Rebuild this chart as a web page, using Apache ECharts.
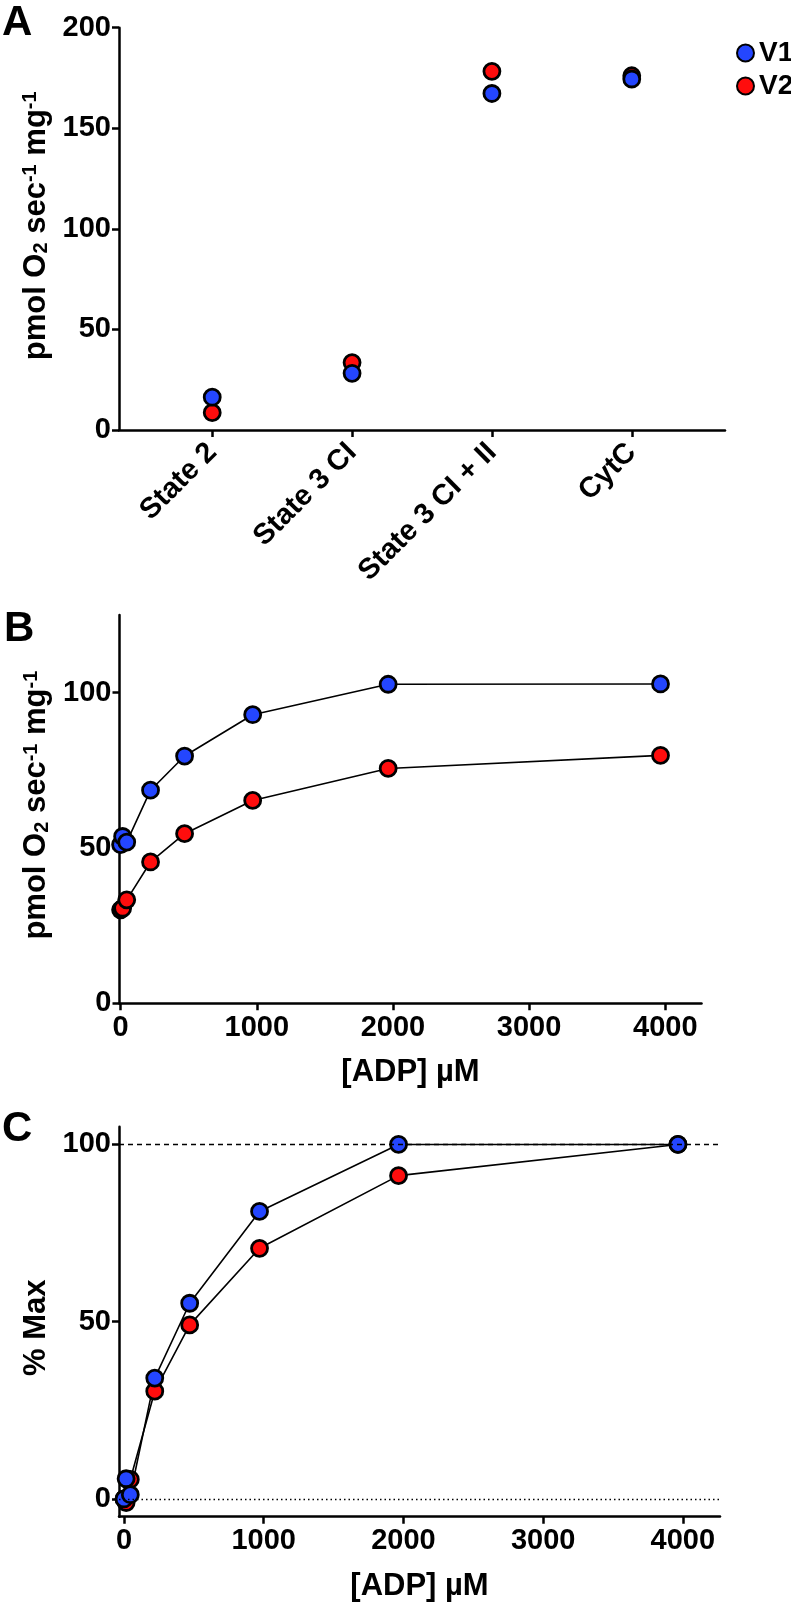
<!DOCTYPE html>
<html>
<head>
<meta charset="utf-8">
<script src="https://cdn.jsdelivr.net/npm/echarts@6/dist/echarts.min.js"></script>
<style>
html,body{margin:0;padding:0;background:#fff;}
#c{width:791px;height:1616px;}
</style>
</head>
<body>
<div id="c"></div>
<script>
// ---------- data ----------
const categoriesA = ['State 2', 'State 3 CI', 'State 3 CI + II', 'CytC'];
const v1A = [16.3, 28.2, 167.3, 174.5];
const v2A = [8.6, 33.5, 178.3, 176.1];

const adp = [0, 15, 45, 220, 470, 970, 1965, 3965];
const v1B = [51.1, 53.7, 51.9, 68.6, 79.6, 92.9, 102.7, 102.8];
const v2B = [30.1, 30.6, 33.3, 45.5, 54.6, 65.3, 75.6, 79.8];

const v1C = [0, 5.7, 1.2, 34.1, 55.2, 81.1, 100, 100];
const v2C = [0, -1, 5.5, 30.4, 49.1, 70.7, 91.2, 100];

const ticksAy = [0, 50, 100, 150, 200];
const ticksAx = [1, 2, 3, 4];
const ticksADP = [0, 1000, 2000, 3000, 4000];
const ticksBy = [0, 50, 100];
const ticksCy = [0, 50, 100];

// ---------- style ----------
const BLUE = '#2446ff';
const RED = '#ff0d0d';
const FONT = 'Liberation Sans, Arial, sans-serif';
const tickFont = {fontFamily: FONT, fontWeight: 'bold', fontSize: 29, color: '#000'};
const nameFont = {fontFamily: FONT, fontWeight: 'bold', fontSize: 31, color: '#000'};
const AXW = 2.5;
const SS = 16;

function plain(v) { return String(v); }
function axisBase(ticks) {
  return {
    axisLine: {show: true, onZero: false, lineStyle: {color: '#000', width: AXW}},
    axisTick: {show: true, customValues: ticks, length: 7, inside: false, lineStyle: {color: '#000', width: AXW}},
    axisLabel: Object.assign({customValues: ticks, margin: 8, formatter: plain}, tickFont),
    splitLine: {show: false}
  };
}
const richName = {
  sub: {fontFamily: FONT, fontWeight: 'bold', fontSize: 20, verticalAlign: 'bottom', lineHeight: 18},
  sup: {fontFamily: FONT, fontWeight: 'bold', fontSize: 20, verticalAlign: 'top', lineHeight: 18}
};
const unitName = 'pmol O{sub|2} sec{sup|-1} mg{sup|-1}';

function sym(color) {
  return {color: color, borderColor: '#000', borderWidth: 2.8, opacity: 1};
}

const chart = echarts.init(document.getElementById('c'), null, {renderer: 'canvas'});

const option = {
  backgroundColor: '#fff',
  animation: false,
  grid: [
    {left: 119, top: 27.7, width: 606, height: 402.3},
    {left: 119.5, top: 615, width: 582, height: 388.3},
    {left: 119, top: 1126.7, width: 601, height: 390}
  ],
  legend: {
    data: ['V1', 'V2'],
    orient: 'vertical',
    left: 731,
    top: 34,
    itemWidth: 17,
    itemHeight: 17,
    itemGap: 5,
    icon: 'circle',
    textStyle: {fontFamily: FONT, fontWeight: 'bold', fontSize: 28, color: '#000'}
  },
  xAxis: [
    Object.assign(axisBase(ticksAx), {
      type: 'value', gridIndex: 0, min: 1 - 2 / 3, max: 4 + 2 / 3,
      axisLabel: Object.assign({customValues: ticksAx, margin: 18, rotate: 45,
        formatter: function (v) { return categoriesA[Math.round(v) - 1] || ''; }}, tickFont)
    }),
    Object.assign(axisBase(ticksADP), {
      type: 'value', gridIndex: 1, min: -8, max: 4266,
      name: '[ADP] µM', nameLocation: 'middle', nameGap: 54, nameTextStyle: nameFont,
      axisLabel: Object.assign({customValues: ticksADP, margin: 10, formatter: plain}, tickFont)
    }),
    Object.assign(axisBase(ticksADP), {
      type: 'value', gridIndex: 2, min: -36, max: 4266,
      name: '[ADP] µM', nameLocation: 'middle', nameGap: 54, nameTextStyle: nameFont,
      axisLabel: Object.assign({customValues: ticksADP, margin: 10, formatter: plain}, tickFont)
    })
  ],
  yAxis: [
    Object.assign(axisBase(ticksAy), {
      type: 'value', gridIndex: 0, min: 0, max: 200,
      name: unitName, nameLocation: 'middle', nameRotate: 90, nameGap: 63,
      nameTextStyle: Object.assign({rich: richName, padding: [0, 0, 0, 6]}, nameFont)
    }),
    Object.assign(axisBase(ticksBy), {
      type: 'value', gridIndex: 1, min: 0, max: 125,
      name: unitName, nameLocation: 'middle', nameRotate: 90, nameGap: 63,
      nameTextStyle: Object.assign({rich: richName, padding: [0, 0, 0, 8]}, nameFont)
    }),
    Object.assign(axisBase(ticksCy), {
      type: 'value', gridIndex: 2, min: -5, max: 105,
      name: '% Max', nameLocation: 'middle', nameRotate: 90, nameGap: 63,
      nameTextStyle: Object.assign({padding: [0, 12, 0, 0]}, nameFont)
    })
  ],
  series: [
    {name: 'V2', type: 'scatter', xAxisIndex: 0, yAxisIndex: 0, symbolSize: SS,
      itemStyle: sym(RED), data: v2A.map((v, i) => [i + 1, v])},
    {name: 'V1', type: 'scatter', xAxisIndex: 0, yAxisIndex: 0, symbolSize: SS,
      itemStyle: sym(BLUE), data: v1A.map((v, i) => [i + 1, v])},

    {name: 'V2', type: 'line', xAxisIndex: 1, yAxisIndex: 1, symbol: 'circle', symbolSize: SS,
      itemStyle: sym(RED), lineStyle: {color: '#000', width: 1.6},
      data: adp.map((x, i) => [x, v2B[i]])},
    {name: 'V1', type: 'line', xAxisIndex: 1, yAxisIndex: 1, symbol: 'circle', symbolSize: SS,
      itemStyle: sym(BLUE), lineStyle: {color: '#000', width: 1.6},
      data: adp.map((x, i) => [x, v1B[i]])},

    {name: 'V2', type: 'line', xAxisIndex: 2, yAxisIndex: 2, symbol: 'circle', symbolSize: SS,
      itemStyle: sym(RED), lineStyle: {color: '#000', width: 1.6},
      data: adp.map((x, i) => [x, v2C[i]]),
      markLine: {silent: true, symbol: 'none', label: {show: false},
        data: [
          {yAxis: 100, lineStyle: {color: '#000', width: 1.4, type: [5, 4]}},
          {yAxis: 0, lineStyle: {color: '#000', width: 1.4, type: [1.5, 3]}}
        ]}},
    {name: 'V1', type: 'line', xAxisIndex: 2, yAxisIndex: 2, symbol: 'circle', symbolSize: SS,
      itemStyle: sym(BLUE), lineStyle: {color: '#000', width: 1.6},
      data: adp.map((x, i) => [x, v1C[i]])}
  ],
  graphic: [
    {type: 'text', left: 2, top: 2, style: {text: 'A', font: 'bold 42px ' + FONT, fill: '#000'}},
    {type: 'text', left: 4, top: 608, style: {text: 'B', font: 'bold 42px ' + FONT, fill: '#000'}},
    {type: 'text', left: 2, top: 1108, style: {text: 'C', font: 'bold 42px ' + FONT, fill: '#000'}}
  ]
};
chart.setOption(option);
</script>
</body>
</html>
